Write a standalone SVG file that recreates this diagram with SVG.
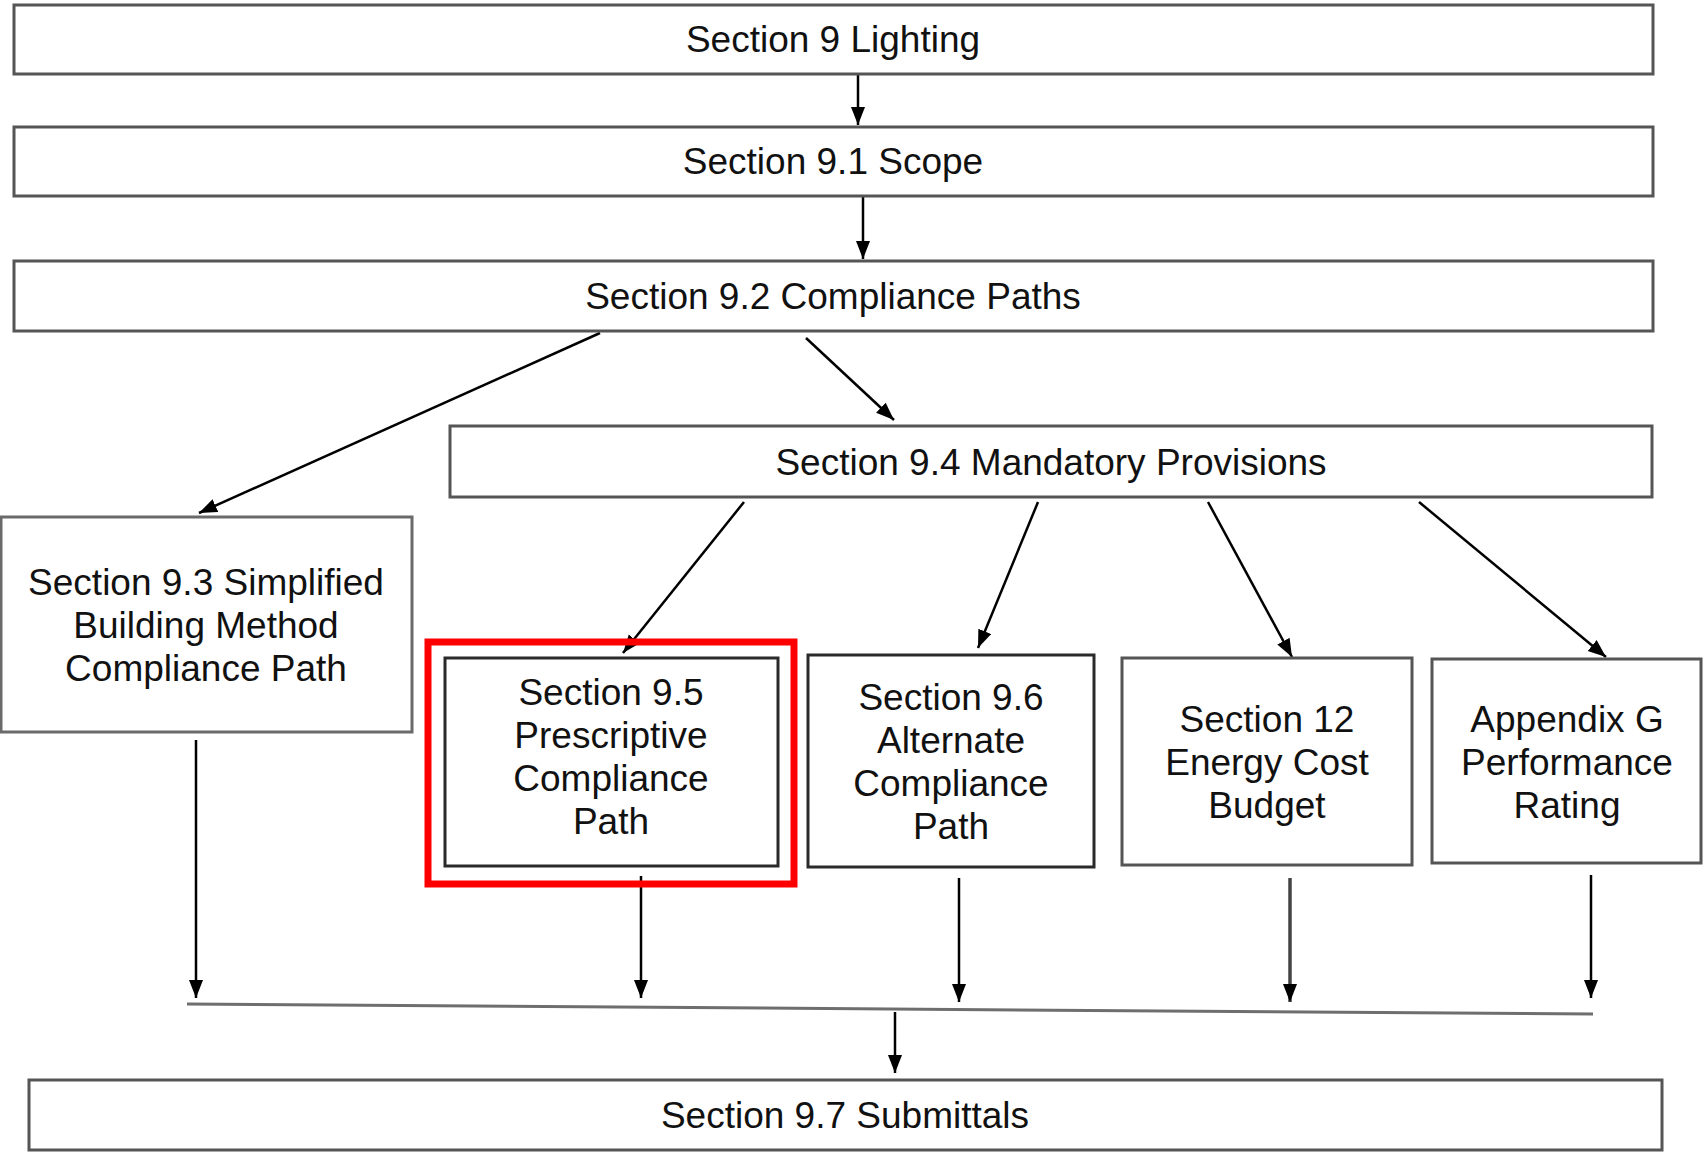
<svg xmlns="http://www.w3.org/2000/svg" width="1703" height="1153" viewBox="0 0 1703 1153">
<style>
.box{fill:#ffffff;stroke:#555555;stroke-width:3}
.dark{stroke:#2a2a2a}
.lbl{font-family:"Liberation Sans",Arial,sans-serif;font-size:37px;fill:#111111;text-anchor:middle}
.arr{stroke:#000000;stroke-width:2.5;fill:none;marker-end:url(#ah)}
.merge{stroke:#6e6e6e;stroke-width:3;fill:none}
.hl{fill:none;stroke:#ff0000;stroke-width:7}
</style>
<defs>
<marker id="ah" markerUnits="userSpaceOnUse" markerWidth="20" markerHeight="16" refX="18" refY="7" orient="auto">
<path d="M0,0 L18,7 L0,14 z" fill="#000000"/>
</marker>
</defs>
<rect width="1703" height="1153" fill="#ffffff"/>
<g id="connectors">
<line class="arr" x1="858" y1="74" x2="858" y2="125"/>
<line class="arr" x1="863" y1="196" x2="863" y2="259"/>
<line class="arr" x1="600" y1="333" x2="199" y2="513"/>
<line class="arr" x1="806" y1="338" x2="894" y2="420"/>
<line class="arr" x1="744" y1="502" x2="623" y2="653"/>
<line class="arr" x1="1038" y1="502" x2="978" y2="648"/>
<line class="arr" x1="1208" y1="502" x2="1292" y2="657"/>
<line class="arr" x1="1419" y1="502" x2="1606" y2="657"/>
<line class="arr" x1="196" y1="740" x2="196" y2="998"/>
<line class="arr" x1="641" y1="876" x2="641" y2="998"/>
<line class="arr" x1="959" y1="878" x2="959" y2="1002"/>
<line class="arr" x1="1290" y1="878" x2="1290" y2="1002" style="stroke:#444;stroke-width:3.5"/>
<line class="arr" x1="1591" y1="875" x2="1591" y2="998"/>
<line class="merge" x1="187" y1="1004" x2="1593" y2="1014"/>
<line class="arr" x1="895" y1="1012" x2="895" y2="1073"/>
</g>
<g id="n1"><rect class="box" x="14" y="5" width="1639" height="69"/><text class="lbl" x="833" y="52">Section 9 Lighting</text></g>
<g id="n2"><rect class="box" x="14" y="127" width="1639" height="69"/><text class="lbl" x="833" y="174">Section 9.1 Scope</text></g>
<g id="n3"><rect class="box" x="14" y="261" width="1639" height="70"/><text class="lbl" x="833" y="309">Section 9.2 Compliance Paths</text></g>
<g id="n4"><rect class="box" x="450" y="426" width="1202" height="71"/><text class="lbl" x="1051" y="475">Section 9.4 Mandatory Provisions</text></g>
<g id="n5"><rect class="box" x="1" y="517" width="411" height="215" style="stroke:#6a6a6a"/><text class="lbl"><tspan x="206" y="595">Section 9.3 Simplified</tspan><tspan x="206" y="638">Building Method</tspan><tspan x="206" y="681">Compliance Path</tspan></text></g>
<g id="n6"><rect class="hl" x="428" y="642" width="366" height="242"/><rect class="box dark" x="445" y="658" width="333" height="208"/><text class="lbl"><tspan x="611" y="705">Section 9.5</tspan><tspan x="611" y="748">Prescriptive</tspan><tspan x="611" y="791">Compliance</tspan><tspan x="611" y="834">Path</tspan></text></g>
<g id="n7"><rect class="box dark" x="808" y="655" width="286" height="212"/><text class="lbl"><tspan x="951" y="710">Section 9.6</tspan><tspan x="951" y="753">Alternate</tspan><tspan x="951" y="796">Compliance</tspan><tspan x="951" y="839">Path</tspan></text></g>
<g id="n8"><rect class="box" x="1122" y="658" width="290" height="207"/><text class="lbl"><tspan x="1267" y="732">Section 12</tspan><tspan x="1267" y="775">Energy Cost</tspan><tspan x="1267" y="818">Budget</tspan></text></g>
<g id="n9"><rect class="box" x="1432" y="659" width="269" height="204"/><text class="lbl"><tspan x="1567" y="732">Appendix G</tspan><tspan x="1567" y="775">Performance</tspan><tspan x="1567" y="818">Rating</tspan></text></g>
<g id="n10"><rect class="box" x="29" y="1080" width="1633" height="70"/><text class="lbl" x="845" y="1128">Section 9.7 Submittals</text></g>
</svg>
